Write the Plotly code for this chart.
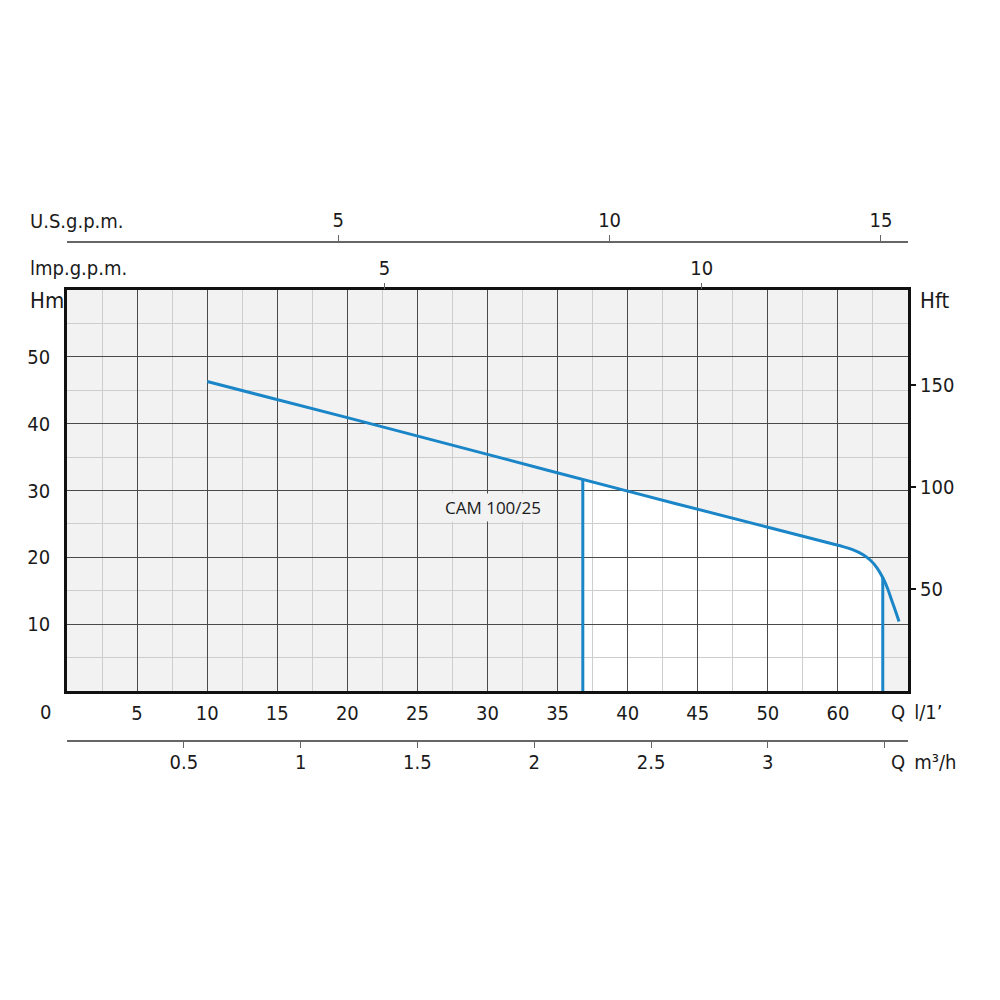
import plotly.graph_objects as go

# ---- data ----
q_lmin = [10, 20, 30, 40, 50, 55, 56, 56.8, 57.3, 57.8, 58.24, 58.55, 58.83, 59.1, 59.36]
h_m = [46.3, 40.9, 35.4, 29.9, 24.5, 21.8, 21.2, 20.4, 19.6, 18.4, 16.8, 15.3, 13.6, 12.0, 10.4]
duty_q = [36.8, 58.2]          # vertical working-range limits (l/min)
curve_name = "CAM 100/25"

x_ticks = [5, 10, 15, 20, 25, 30, 35, 40, 45, 50, 55]
x_ticktext = ["5", "10", "15", "20", "25", "30", "35", "40", "45", "50", "60"]
y_ticks = [10, 20, 30, 40, 50]
hft_ticks = [50, 100, 150]
usgpm_ticks = [5, 10, 15]
impgpm_ticks = [5, 10]
m3h_ticks = [0.5, 1, 1.5, 2, 2.5, 3, 3.5]
m3h_ticktext = ["0.5", "1", "1.5", "2", "2.5", "3", ""]

Q_MAX = 60
H_MAX = 60
USGPM_MAX = 15.5
IMPGPM_MAX = 13.25

# ---- helpers ----
def interp(x, xs, ys):
    for i in range(len(xs) - 1):
        if xs[i] <= x <= xs[i + 1]:
            t = (x - xs[i]) / (xs[i + 1] - xs[i])
            return ys[i] + t * (ys[i + 1] - ys[i])
    return ys[-1]

h_duty = [interp(q, q_lmin, h_m) for q in duty_q]

FONT = "DejaVu Sans Condensed, Liberation Sans Narrow, Roboto, sans-serif"
TXT = "#1a1a1a"
MAJOR = "#4a4a4a"
MINOR = "#cdcdcd"
BLUE = "#1a86c8"

fig = go.Figure()

# curve
fig.add_trace(go.Scatter(x=q_lmin, y=h_m, mode="lines",
                         line=dict(color=BLUE, width=3, shape="spline", smoothing=1.0),
                         hoverinfo="skip", showlegend=False))
# vertical duty limits
for q, h in zip(duty_q, h_duty):
    fig.add_trace(go.Scatter(x=[q, q], y=[0, h], mode="lines", line=dict(color=BLUE, width=3),
                             hoverinfo="skip", showlegend=False))

# white working area (below grid)
pts = [(duty_q[0], 0), (duty_q[0], h_duty[0])]
pts += [(q, h) for q, h in zip(q_lmin, h_m) if duty_q[0] < q < duty_q[1]]
pts += [(duty_q[1], h_duty[1]), (duty_q[1], 0)]
path = "M " + " L ".join(f"{x},{y}" for x, y in pts) + " Z"

shapes = [dict(type="path", path=path, xref="x", yref="y", fillcolor="white",
               line=dict(width=0), layer="below")]

y0d = (800 - 691) / 600
y1d = (800 - 290) / 600
xd = [0.067, 0.908]

minor_x = [2.5 + 5 * i for i in range(12)]
minor_y = [5 + 10 * i for i in range(6)]

fig.update_layout(
    width=1000, height=1000,
    margin=dict(l=0, r=0, t=200, b=200),
    paper_bgcolor="white", plot_bgcolor="#f2f2f2",
    font=dict(family=FONT, size=20, color=TXT),
    shapes=shapes,
    xaxis=dict(domain=xd, range=[0, Q_MAX], tickmode="array", tickvals=x_ticks, ticktext=x_ticktext,
               showgrid=True, gridcolor=MAJOR, gridwidth=1, zeroline=False,
               showline=True, linecolor="#111", linewidth=2.5, mirror=True, ticks="",
               ticklabelstandoff=2,
               minor=dict(tickmode="array", tickvals=minor_x, showgrid=True, gridcolor=MINOR, gridwidth=1, ticks="")),
    yaxis=dict(domain=[y0d, y1d], range=[0, H_MAX], tickmode="array", tickvals=y_ticks,
               showgrid=True, gridcolor=MAJOR, gridwidth=1, zeroline=False,
               showline=True, linecolor="#111", linewidth=2.5, mirror=True, ticks="",
               ticklabelstandoff=10,
               minor=dict(tickmode="array", tickvals=minor_y, showgrid=True, gridcolor=MINOR, gridwidth=1, ticks="")),
    yaxis2=dict(overlaying="y", side="right", anchor="x", range=[0, H_MAX / 0.3048],
                tickmode="array", tickvals=hft_ticks, showgrid=False, zeroline=False, showline=False,
                ticks="outside", ticklen=7, tickwidth=1.5, tickcolor="#111"),
    xaxis2=dict(overlaying="x", side="top", anchor="free", position=(800 - 242) / 600,
                range=[0, USGPM_MAX], tickmode="array", tickvals=usgpm_ticks,
                showgrid=False, zeroline=False, showline=True, linecolor="#666", linewidth=1.5,
                ticks="outside", ticklen=6, tickwidth=1.2, tickcolor="#666"),
    xaxis3=dict(overlaying="x", side="top", anchor="y",
                range=[0, IMPGPM_MAX], tickmode="array", tickvals=impgpm_ticks,
                showgrid=False, zeroline=False, showline=False,
                ticks="outside", ticklen=6, tickwidth=1.2, tickcolor="#666"),
    xaxis4=dict(overlaying="x", side="bottom", anchor="free", position=(800 - 741) / 600,
                range=[0, Q_MAX * 0.06], tickmode="array", tickvals=m3h_ticks, ticktext=m3h_ticktext,
                showgrid=False, zeroline=False, showline=True, linecolor="#666", linewidth=1.5,
                ticks="outside", ticklen=6, tickwidth=1.2, tickcolor="#666",
                ticklabelstandoff=-3),
)

# dummy traces to activate extra axes
fig.add_trace(go.Scatter(x=[None], y=[None], xaxis="x2", yaxis="y", showlegend=False, hoverinfo="skip"))
fig.add_trace(go.Scatter(x=[None], y=[None], xaxis="x3", yaxis="y", showlegend=False, hoverinfo="skip"))
fig.add_trace(go.Scatter(x=[None], y=[None], xaxis="x4", yaxis="y", showlegend=False, hoverinfo="skip"))
fig.add_trace(go.Scatter(x=[None], y=[None], xaxis="x", yaxis="y2", showlegend=False, hoverinfo="skip"))

def py(v):
    return (800 - v) / 600

ann = [
    dict(text="U.S.g.p.m.", x=0.028, y=py(221), xanchor="left"),
    dict(text="lmp.g.p.m.", x=0.028, y=py(268), xanchor="left"),
    dict(text="Hm", x=0.028, y=py(300), xanchor="left", size=22),
    dict(text="Hft", x=0.918, y=py(300), xanchor="left", size=22),
    dict(text="0", x=0.045, y=py(712), xanchor="center"),
    dict(text="Q\u2002l/1’", x=0.889, y=py(712), xanchor="left"),
    dict(text="Q\u2002m³/h", x=0.889, y=py(762), xanchor="left"),
]
for a in ann:
    fig.add_annotation(text=a["text"], x=a["x"], y=a["y"], xref="paper", yref="paper",
                       xanchor=a["xanchor"], yanchor="middle", showarrow=False,
                       font=dict(family=FONT, size=a.get("size", 20), color=TXT))

fig.add_annotation(text=curve_name, x=30.4, y=27.5, xref="x", yref="y", showarrow=False,
                   font=dict(family="Open Sans, sans-serif", size=17, color=TXT),
                   bgcolor="#f2f2f2", borderpad=2)

fig.write_html("out.html")
